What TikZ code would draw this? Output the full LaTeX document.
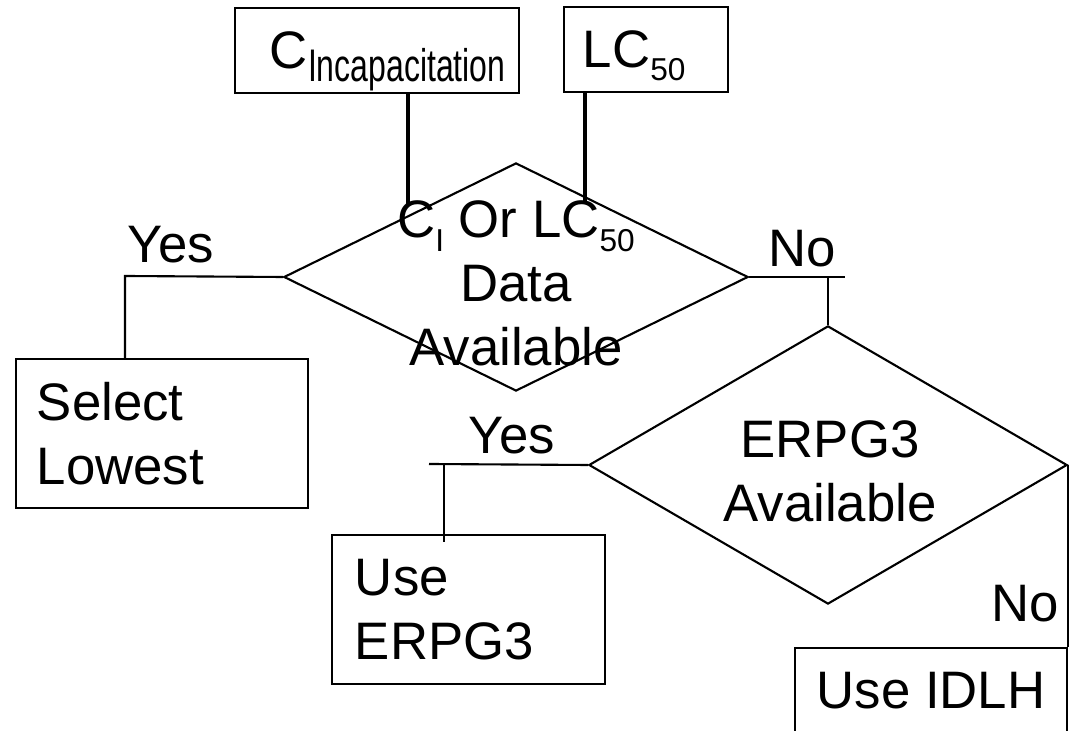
\documentclass[tikz,border=0pt]{standalone}
\usepackage{fontspec}
\usepackage{graphicx}
\setmainfont{Liberation Sans}
\usetikzlibrary{shapes.geometric}
\newcommand{\lowsub}[1]{\raisebox{-0.25em}[0pt][0pt]{\fontsize{9}{9}\selectfont #1}}
\newcommand{\widesub}[1]{\raisebox{-0.25em}[0pt][0pt]{\scalebox{0.7}[1]{\fontsize{13}{13}\selectfont #1}}}

\begin{document}
\begin{tikzpicture}[x=0.01cm, y=-0.01cm,
    every node/.style={font=\fontsize{15}{18.2}\selectfont},
    box/.style={draw, line width=0.45pt, rectangle, align=left, inner ysep=0pt},
    choice/.style={draw, line width=0.6pt, diamond, inner sep=0pt},
    link/.style={line width=0.6pt},
    feed/.style={line width=0.9pt}]
    \useasboundingbox (0,0) rectangle (1072,731);
    \node[box, inner xsep=0.35cm, text width=2.14cm, minimum height=0.85cm] (cinc) at (377,50.5) {C\widesub{Incapacitation}};
    \node[box, inner xsep=0.19cm, text width=1.26cm, minimum height=0.85cm] (lc50) at (646,49.5) {LC\lowsub{50}};
    \node[choice, minimum width=4.64cm, minimum height=2.28cm] (d1) at (516,277) {};
    \node[align=center, anchor=base] (d1text) at (516,366) {C\lowsub{I} Or LC\lowsub{50}\\Data\\Available};
    \node[box, inner xsep=0.21cm, text width=2.5cm, minimum height=1.49cm] (lowest) at (162,433.5) {Select\\Lowest};
    \node[choice, minimum width=4.78cm, minimum height=2.78cm] (d2) at (828,465) {};
    \node[align=center, anchor=base] (d2text) at (830,522) {ERPG3\\Available};
    \node[box, inner xsep=0.23cm, text width=2.27cm, minimum height=1.49cm] (erpg) at (468.5,609.5) {Use\\ERPG3};
    \node[box, align=center, minimum width=2.72cm, minimum height=0.86cm] (idlh) at (931,691) {Use IDLH};
    \node[anchor=base] (yes1) at (171,263) {Yes};
    \node[anchor=base] (no1) at (802,267) {No};
    \node[anchor=base] (yes2) at (512,454) {Yes};
    \node[anchor=base] (no2) at (1025,622) {No};
    \coordinate (cincend) at (408,205);
    \coordinate (lcend) at (585,203);
    \coordinate (yesturn) at (125,276);
    \coordinate (noend) at (845,277);
    \coordinate (yes2end) at (429,464);
    \coordinate (yes2drop) at (444,542);
    \draw[feed] (cincend |- cinc.south) -- (cincend);
    \draw[feed] (lcend |- lc50.south) -- (lcend);
    \draw[link] (d1.west) -- (yesturn) -- (yesturn |- lowest.north);
    \draw[link] (d1.east) -- (noend);
    \draw[link] (d2.north) -- (d2.north |- noend);
    \draw[link] (d2.west) -- (yes2end);
    \draw[link] (yes2drop |- yes2end) -- (yes2drop);
    \draw[link] (d2.east) -- (d2.east |- idlh.north);
\end{tikzpicture}
\end{document}
